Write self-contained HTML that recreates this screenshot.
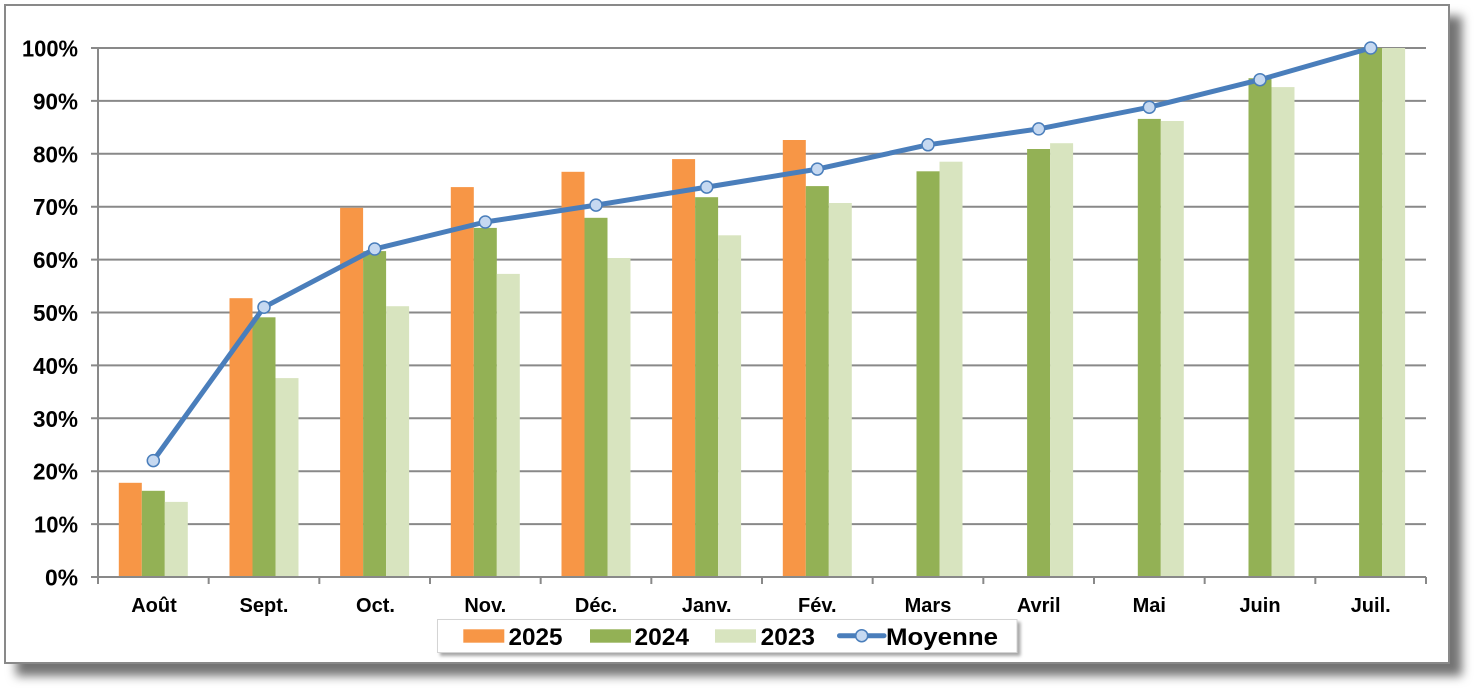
<!DOCTYPE html>
<html><head><meta charset="utf-8"><style>
html,body{margin:0;padding:0;background:#fff;}
svg{display:block;}
text{font-family:"Liberation Sans",Arial,sans-serif;font-weight:bold;fill:#000;}
</style></head><body>
<svg width="1483" height="697" viewBox="0 0 1483 697" xmlns="http://www.w3.org/2000/svg">
<defs>
<filter id="sh" x="-5%" y="-5%" width="115%" height="120%">
<feDropShadow dx="12" dy="12" stdDeviation="5" flood-color="#000" flood-opacity="0.55"/>
</filter>
<filter id="sh2" x="-5%" y="-30%" width="115%" height="170%">
<feDropShadow dx="3" dy="3" stdDeviation="1.5" flood-color="#000" flood-opacity="0.35"/>
</filter>
</defs>
<rect x="0" y="0" width="1483" height="697" fill="#fff"/>
<rect x="5" y="5" width="1444" height="658" fill="#fff" stroke="#898989" stroke-width="2" filter="url(#sh)"/>

<!-- gridlines -->
<g stroke="#898989" stroke-width="2">
<line x1="91" y1="48" x2="1426" y2="48"/>
<line x1="91" y1="100.9" x2="1426" y2="100.9"/>
<line x1="91" y1="153.8" x2="1426" y2="153.8"/>
<line x1="91" y1="206.7" x2="1426" y2="206.7"/>
<line x1="91" y1="259.6" x2="1426" y2="259.6"/>
<line x1="91" y1="312.5" x2="1426" y2="312.5"/>
<line x1="91" y1="365.4" x2="1426" y2="365.4"/>
<line x1="91" y1="418.3" x2="1426" y2="418.3"/>
<line x1="91" y1="471.2" x2="1426" y2="471.2"/>
<line x1="91" y1="524.1" x2="1426" y2="524.1"/>
</g>

<!-- bars 2025 -->
<g fill="#F79646">
<rect x="118.8" y="482.8" width="23" height="94.2"/>
<rect x="229.5" y="298.2" width="23" height="278.8"/>
<rect x="340.1" y="207.8" width="23" height="369.2"/>
<rect x="450.8" y="187.1" width="23" height="389.9"/>
<rect x="561.5" y="171.8" width="23" height="405.2"/>
<rect x="672.1" y="159.1" width="23" height="417.9"/>
<rect x="782.8" y="140.0" width="23" height="437.0"/>
</g>
<!-- bars 2024 -->
<g fill="#93B155">
<rect x="141.8" y="490.8" width="23" height="86.2"/>
<rect x="252.5" y="317.3" width="23" height="259.7"/>
<rect x="363.1" y="251.1" width="23" height="325.9"/>
<rect x="473.8" y="227.9" width="23" height="349.1"/>
<rect x="584.5" y="217.8" width="23" height="359.2"/>
<rect x="695.1" y="197.2" width="23" height="379.8"/>
<rect x="805.8" y="186.1" width="23" height="390.9"/>
<rect x="916.5" y="171.3" width="23" height="405.7"/>
<rect x="1027.1" y="149.0" width="23" height="428.0"/>
<rect x="1137.8" y="118.9" width="23" height="458.1"/>
<rect x="1248.5" y="78.2" width="23" height="498.8"/>
<rect x="1359.1" y="48" width="23" height="529"/>
</g>
<!-- bars 2023 -->
<g fill="#D8E4BF">
<rect x="164.8" y="501.9" width="23" height="75.1"/>
<rect x="275.5" y="378.1" width="23" height="198.9"/>
<rect x="386.1" y="306.2" width="23" height="270.8"/>
<rect x="496.8" y="273.9" width="23" height="303.1"/>
<rect x="607.5" y="258.0" width="23" height="319.0"/>
<rect x="718.1" y="235.3" width="23" height="341.7"/>
<rect x="828.8" y="203.0" width="23" height="374.0"/>
<rect x="939.5" y="161.7" width="23" height="415.3"/>
<rect x="1050.1" y="143.2" width="23" height="433.8"/>
<rect x="1160.8" y="121.0" width="23" height="456.0"/>
<rect x="1271.5" y="87.1" width="23" height="489.9"/>
<rect x="1382.1" y="48" width="23" height="529"/>
</g>

<!-- axes -->
<g stroke="#898989" stroke-width="2">
<line x1="98" y1="47" x2="98" y2="584"/>
<line x1="91" y1="577" x2="1426" y2="577"/>
<line x1="208.67" y1="577" x2="208.67" y2="584"/>
<line x1="319.33" y1="577" x2="319.33" y2="584"/>
<line x1="430" y1="577" x2="430" y2="584"/>
<line x1="540.67" y1="577" x2="540.67" y2="584"/>
<line x1="651.33" y1="577" x2="651.33" y2="584"/>
<line x1="762" y1="577" x2="762" y2="584"/>
<line x1="872.67" y1="577" x2="872.67" y2="584"/>
<line x1="983.33" y1="577" x2="983.33" y2="584"/>
<line x1="1094" y1="577" x2="1094" y2="584"/>
<line x1="1204.67" y1="577" x2="1204.67" y2="584"/>
<line x1="1315.33" y1="577" x2="1315.33" y2="584"/>
<line x1="1426" y1="577" x2="1426" y2="584"/>
</g>

<!-- average line -->
<polyline fill="none" stroke="#4A7EBB" stroke-width="5" stroke-linejoin="round" stroke-linecap="round"
points="153.3,460.6 264,307.2 374.7,249.0 485.3,222.0 596,205.1 706.7,187.1 817.3,169.1 928,144.8 1038.7,128.9 1149.3,107.2 1260,79.7 1370.7,48"/>
<g fill="#C6D9F1" stroke="#4A7EBB" stroke-width="1.5">
<circle cx="153.3" cy="460.6" r="6"/>
<circle cx="264" cy="307.2" r="6"/>
<circle cx="374.7" cy="249.0" r="6"/>
<circle cx="485.3" cy="222.0" r="6"/>
<circle cx="596" cy="205.1" r="6"/>
<circle cx="706.7" cy="187.1" r="6"/>
<circle cx="817.3" cy="169.1" r="6"/>
<circle cx="928" cy="144.8" r="6"/>
<circle cx="1038.7" cy="128.9" r="6"/>
<circle cx="1149.3" cy="107.2" r="6"/>
<circle cx="1260" cy="79.7" r="6"/>
<circle cx="1370.7" cy="48" r="6"/>
</g>

<!-- y labels -->
<g font-size="23" text-anchor="end">
<text x="78" y="56.5" textLength="56" lengthAdjust="spacingAndGlyphs">100%</text>
<text x="78" y="109.4" textLength="45" lengthAdjust="spacingAndGlyphs">90%</text>
<text x="78" y="162.3" textLength="45" lengthAdjust="spacingAndGlyphs">80%</text>
<text x="78" y="215.2" textLength="45" lengthAdjust="spacingAndGlyphs">70%</text>
<text x="78" y="268.1" textLength="45" lengthAdjust="spacingAndGlyphs">60%</text>
<text x="78" y="321" textLength="45" lengthAdjust="spacingAndGlyphs">50%</text>
<text x="78" y="373.9" textLength="45" lengthAdjust="spacingAndGlyphs">40%</text>
<text x="78" y="426.8" textLength="45" lengthAdjust="spacingAndGlyphs">30%</text>
<text x="78" y="479.7" textLength="45" lengthAdjust="spacingAndGlyphs">20%</text>
<text x="78" y="532.6" textLength="44" lengthAdjust="spacingAndGlyphs">10%</text>
<text x="78" y="585.5" textLength="33" lengthAdjust="spacingAndGlyphs">0%</text>
</g>

<!-- x labels -->
<g font-size="20" text-anchor="middle">
<text x="154" y="612">Août</text>
<text x="264" y="612">Sept.</text>
<text x="375.5" y="612">Oct.</text>
<text x="485.3" y="612">Nov.</text>
<text x="596" y="612">Déc.</text>
<text x="706.7" y="612">Janv.</text>
<text x="817.3" y="612">Fév.</text>
<text x="928" y="612">Mars</text>
<text x="1038.7" y="612">Avril</text>
<text x="1149.3" y="612">Mai</text>
<text x="1260" y="612">Juin</text>
<text x="1370.7" y="612">Juil.</text>
</g>

<!-- legend -->
<rect x="437.5" y="619.5" width="579.5" height="33" fill="#fff" stroke="#d4d4d4" stroke-width="1" filter="url(#sh2)"/>
<rect x="463.3" y="629.3" width="41" height="13.4" fill="#F79646"/>
<rect x="590" y="629.3" width="41" height="13.4" fill="#93B155"/>
<rect x="715" y="629.3" width="41" height="13.4" fill="#D8E4BF"/>
<line x1="839.5" y1="635.7" x2="884" y2="635.7" stroke="#4A7EBB" stroke-width="5" stroke-linecap="round"/>
<circle cx="861.7" cy="635.7" r="6" fill="#C6D9F1" stroke="#4A7EBB" stroke-width="1.5"/>
<g font-size="24">
<text x="508.5" y="645" textLength="54" lengthAdjust="spacingAndGlyphs">2025</text>
<text x="634.5" y="645" textLength="54.5" lengthAdjust="spacingAndGlyphs">2024</text>
<text x="760.7" y="645" textLength="54.3" lengthAdjust="spacingAndGlyphs">2023</text>
<text x="886" y="645" textLength="112" lengthAdjust="spacingAndGlyphs">Moyenne</text>
</g>
</svg>
</body></html>
